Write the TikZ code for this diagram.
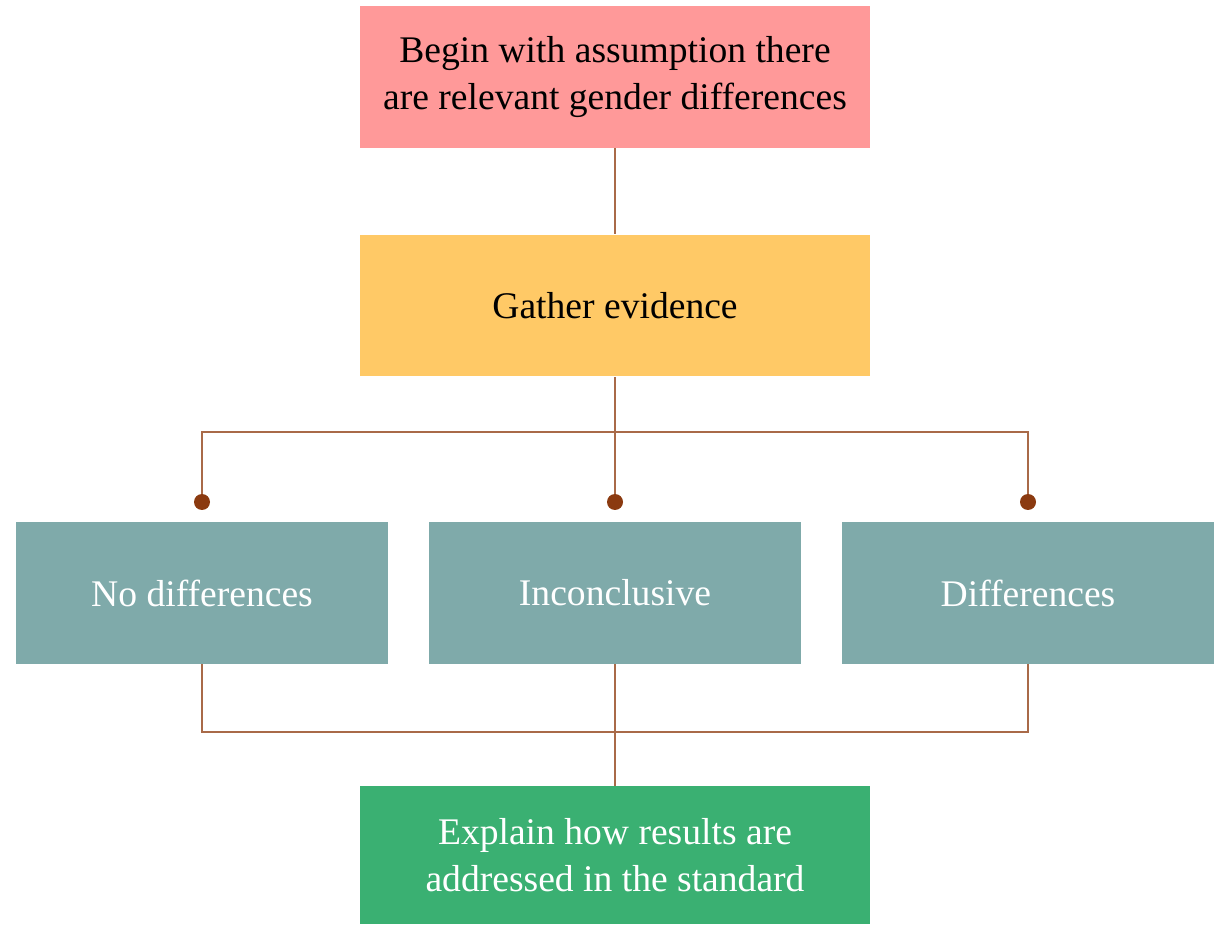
\documentclass[tikz,border=0pt]{standalone}
\usepackage{fontspec}
\setmainfont{Liberation Serif}
\definecolor{pinkbox}{HTML}{FF9999}
\definecolor{yellowbox}{HTML}{FFC966}
\definecolor{tealbox}{HTML}{7FAAAA}
\definecolor{greenbox}{HTML}{3AB072}
\definecolor{wire}{HTML}{A96A48}
\definecolor{knob}{HTML}{8B3A10}
\tikzset{
  box/.style={minimum width=10.2cm, minimum height=2.84cm, inner sep=0pt,
    align=center, font=\fontsize{21.4}{26.5}\selectfont},
  smallbox/.style={box, minimum width=7.46cm, fill=tealbox, text=white},
  wire/.style={draw=wire, line width=1.2pt}
}
\begin{document}
\begin{tikzpicture}[x=0.02cm, y=-0.02cm]
\useasboundingbox (0,0) rectangle (1220,925);
\draw(615,77) node[box, fill=pinkbox](begin){Begin with assumption there\\are relevant gender differences};
\draw(615,305.5) node[box, fill=yellowbox](gather){Gather evidence};
\draw[wire] (begin) -- (gather);
%
\draw(202,593) node[smallbox](nodiff){No differences};
\draw(615,593) node[smallbox](incon){Inconclusive};
\draw(1028,593) node[smallbox](diff){Differences};
%
\coordinate (split) at (615,432);
\coordinate (d1) at (202,502);
\coordinate (d2) at (615,502);
\coordinate (d3) at (1028,502);
\draw[wire] (gather) -- (split) -- (d2);
\draw[wire] (d1) |- (split) -| (d3);
\foreach \d in {d1,d2,d3}
  \fill[knob] (\d) circle (0.16cm);
%
\draw(615,855) node[box, minimum height=2.76cm, fill=greenbox, text=white](explain)
  {Explain how results are\\addressed in the standard};
\coordinate (m1) at (202,732);
\coordinate (merge) at (615,732);
\coordinate (m3) at (1028,732);
\draw[wire] (nodiff) -- (m1) -- (m3) -- (diff);
\draw[wire] (incon) -- (merge) -- (explain);
\end{tikzpicture}
\end{document}
